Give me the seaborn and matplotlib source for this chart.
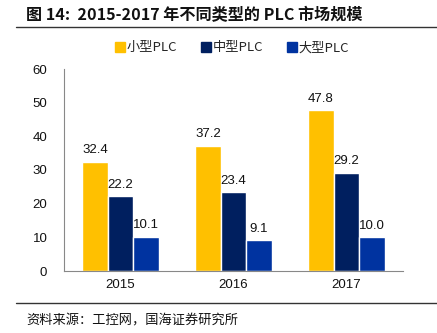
import matplotlib
matplotlib.use("Agg")
import matplotlib.pyplot as plt
import seaborn as sns
import pandas as pd
from matplotlib.lines import Line2D
from matplotlib.patches import Patch

years = ["2015", "2016", "2017"]
series_names = ["小型PLC", "中型PLC", "大型PLC"]
small_plc = [32.4, 37.2, 47.8]
medium_plc = [22.2, 23.4, 29.2]
large_plc = [10.1, 9.1, 10.0]
colors = ["#FFC000", "#001F5F", "#0033A0"]
yticks = [0, 10, 20, 30, 40, 50, 60]

sns.set_theme(style="white")
plt.rcParams['font.family'] = ['Noto Sans CJK SC', 'DejaVu Sans']

rows = []
for name, vals in zip(series_names, [small_plc, medium_plc, large_plc]):
    for y, v in zip(years, vals):
        rows.append({"year": y, "series": name, "value": v})
df = pd.DataFrame(rows)

W, H = 437, 333
fig = plt.figure(figsize=(W / 100, H / 100), dpi=100)
ax = fig.add_axes([64 / W, 1 - 271 / H, (403 - 64) / W, (271 - 69) / H])

sns.barplot(data=df, x="year", y="value", hue="series", order=years,
            hue_order=series_names, palette=colors, width=0.68, gap=0,
            saturation=1, ax=ax, legend=False, errorbar=None)

for cont in ax.containers:
    ax.bar_label(cont, fmt="%.1f", padding=4, fontsize=9.5, color="#111111",
                 family=['Liberation Sans', 'DejaVu Sans'])

ax.set_ylim(0, 60)
ax.set_xlim(-0.5, 2.5)
ax.set_yticks(yticks)
ax.set_xlabel("")
ax.set_ylabel("")
for s in ["top", "right"]:
    ax.spines[s].set_visible(False)
for s in ["left", "bottom"]:
    ax.spines[s].set_color("#888888")
    ax.spines[s].set_linewidth(0.8)
ax.tick_params(axis="y", which="major", direction="out", length=4, width=0.8,
               color="#888888", labelsize=9.5, pad=8)
ax.tick_params(axis="x", which="major", length=0, labelsize=9.5, pad=6)
ax.set_xticks([-0.5, 0.5, 1.5, 2.5], minor=True)
ax.tick_params(axis="x", which="minor", direction="in", length=5, width=0.8,
               color="#888888")
for lab in ax.get_xticklabels() + ax.get_yticklabels():
    lab.set_fontfamily(['Liberation Sans', 'DejaVu Sans'])
    lab.set_color("#111111")

handles = [Patch(facecolor=c, edgecolor=c) for c in colors]
fig.legend(handles, series_names, loc="center", bbox_to_anchor=(232 / W, 1 - 48 / H),
           ncol=3, frameon=False, fontsize=9.5, handlelength=0.75, handleheight=0.75,
           handletextpad=0.15, columnspacing=1.8)

fig.text(26 / W, 1 - 15 / H, "图 14:  2015-2017 年不同类型的 PLC 市场规模",
         fontsize=11.6, fontweight="bold", va="center", ha="left", color="#111111")
fig.add_artist(Line2D([16 / W, 1.0], [1 - 27 / H, 1 - 27 / H], color="#333333",
                      linewidth=1.0, transform=fig.transFigure))
fig.add_artist(Line2D([16 / W, 1.0], [1 - 303 / H, 1 - 303 / H], color="#333333",
                      linewidth=1.0, transform=fig.transFigure))
fig.text(26 / W, 1 - 321 / H, "资料来源：工控网，国海证券研究所",
         fontsize=9.5, va="center", ha="left", color="#111111")

fig.savefig("out.png", dpi=100)
